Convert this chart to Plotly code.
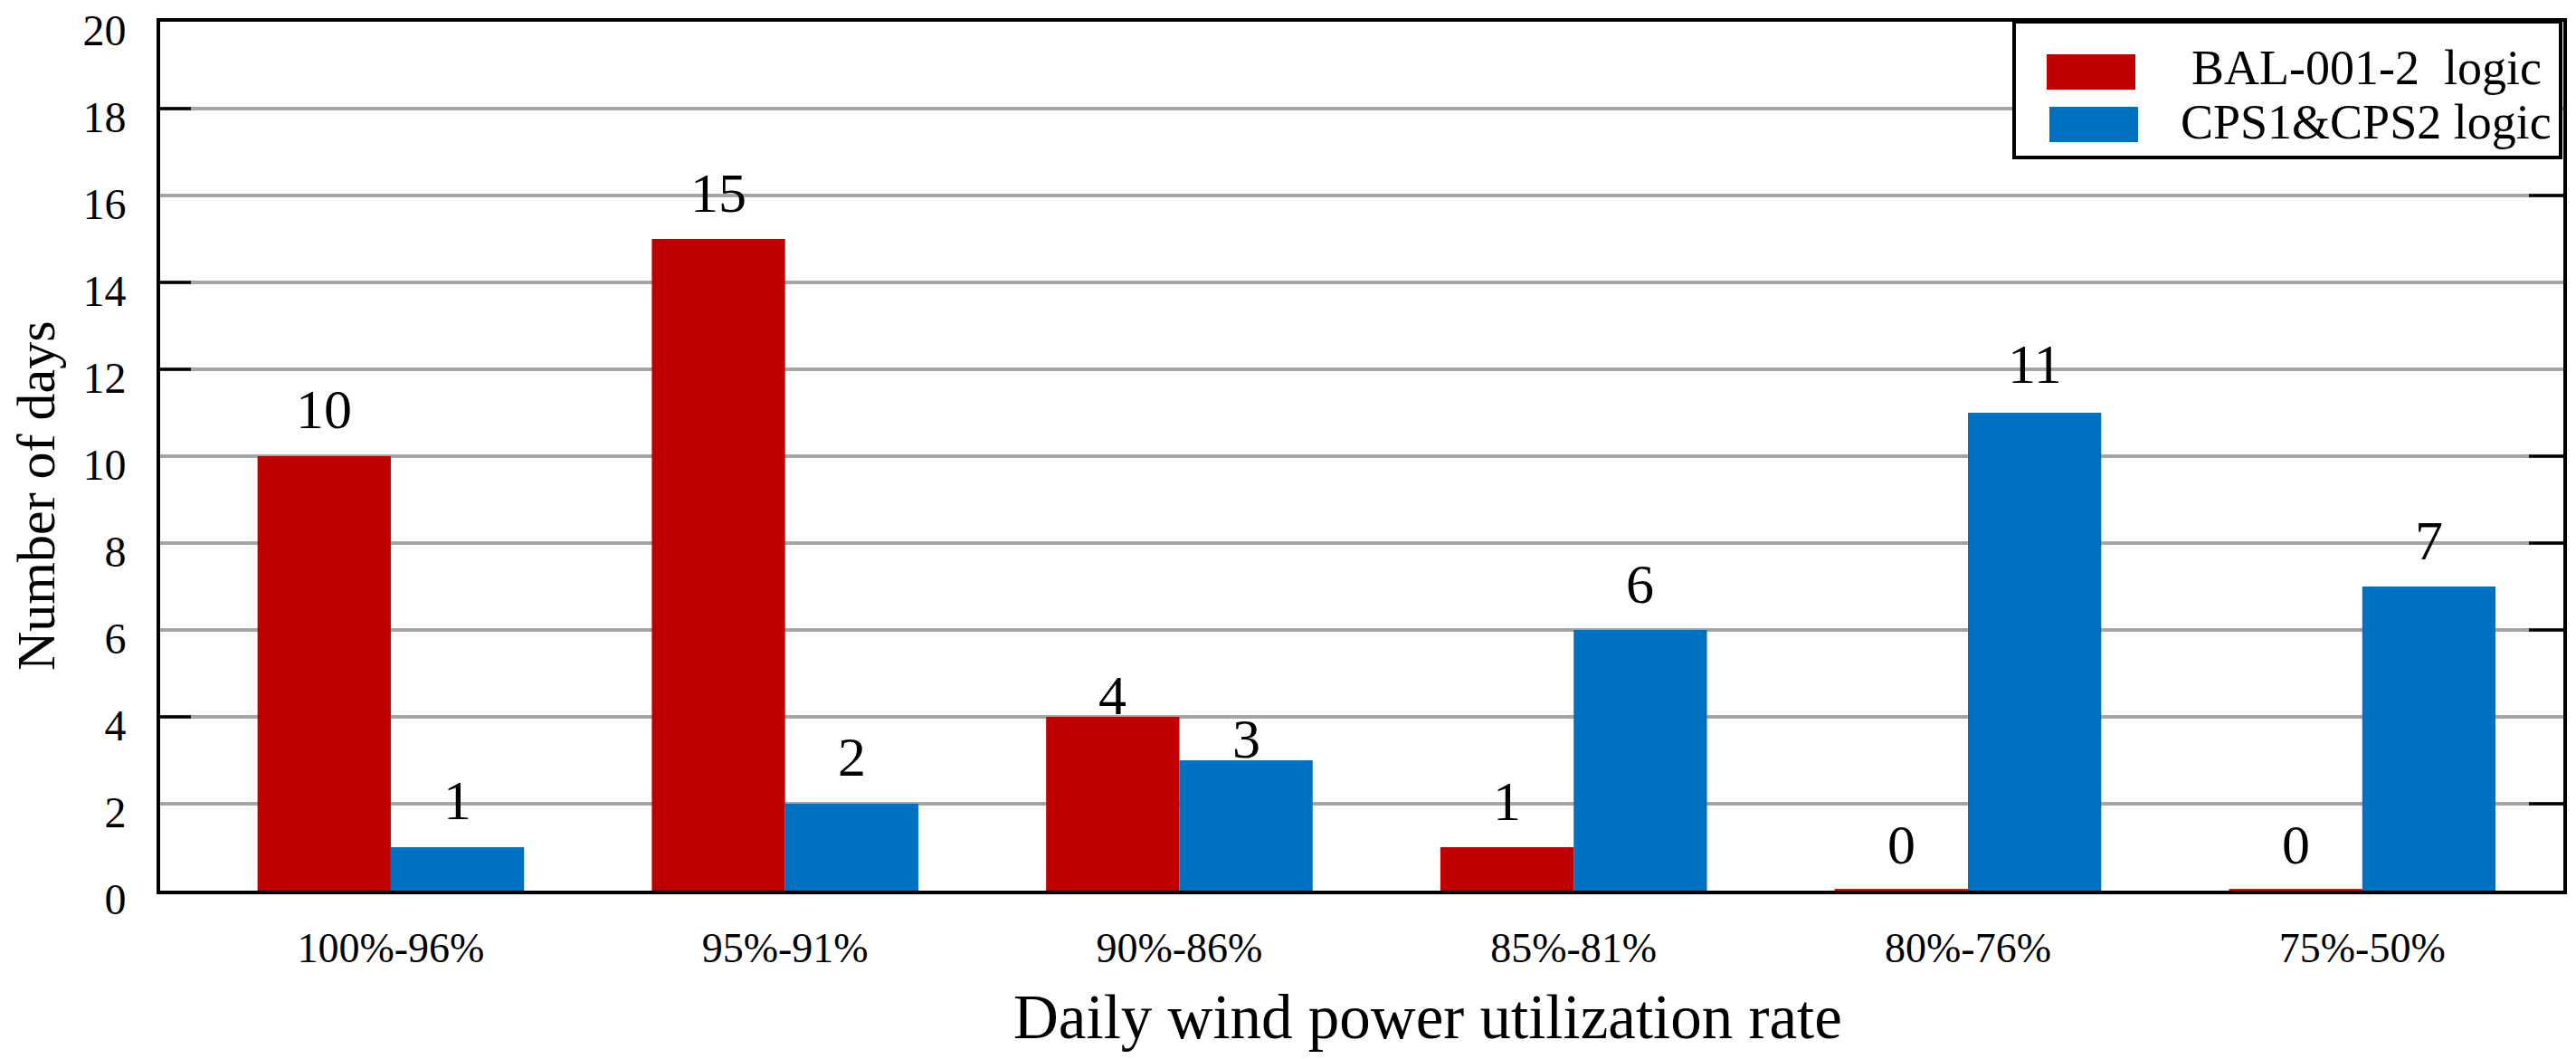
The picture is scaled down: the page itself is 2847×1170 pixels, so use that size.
import plotly.graph_objects as go

# ---------------- data ----------------
categories = ["100%-96%", "95%-91%", "90%-86%", "85%-81%", "80%-76%", "75%-50%"]
bal_values = [10, 15, 4, 1, 0, 0]
cps_values = [1, 2, 3, 6, 11, 7]
series_names = ["BAL-001-2\u00a0 logic", "CPS1&CPS2 logic"]
y_ticks = [0, 2, 4, 6, 8, 10, 12, 14, 16, 18, 20]

# ---------------- style ----------------
FONT = "Liberation Serif"
RED = "#C00000"
BLUE = "#0070C0"
ZERO_RED = "#FF0000"
GRID = "#A6A6A6"
W, H = 2847, 1170
ML, MR, MT, MB = 177, 14, 24, 186
PLOT_W = W - ML - MR
PH = H - MT - MB
X_RANGE = [-0.585, 5.51]
BAR_FRAC = 0.338            # width of one bar as fraction of a category
BAR_PX_HALF = PLOT_W / (X_RANGE[1] - X_RANGE[0]) * BAR_FRAC / 2

# label gaps (pixels between bar top and label) per series
bal_gaps = [29, 28, 1, 28, 28, 28]
cps_gaps = [29, 29, 1, 28, 31, 28]

# tick decorations seen on the frame
left_black_ticks = [18, 14, 12, 4]
right_black_ticks = [16, 10, 8, 6, 2]

fig = go.Figure()
fig.add_trace(go.Bar(
    x=categories, y=bal_values, name=series_names[0],
    marker=dict(color=RED,
                line=dict(color=[ZERO_RED if v == 0 else RED for v in bal_values],
                          width=[4 if v == 0 else 0 for v in bal_values])),
))
fig.add_trace(go.Bar(
    x=categories, y=cps_values, name=series_names[1],
    marker=dict(color=BLUE,
                line=dict(color=[ZERO_RED if v == 0 else BLUE for v in cps_values],
                          width=[4 if v == 0 else 0 for v in cps_values])),
))

annotations = []
LABEL_SIZE = 62
for vals, gaps, sign in ((bal_values, bal_gaps, -1), (cps_values, cps_gaps, 1)):
    for c, v, g in zip(categories, vals, gaps):
        annotations.append(dict(
            x=c, y=v, xref="x", yref="y", text=str(v), showarrow=False,
            xanchor="center", yanchor="bottom",
            xshift=sign * BAR_PX_HALF, yshift=g - 0.216 * LABEL_SIZE,
            font=dict(family=FONT, size=LABEL_SIZE, color="black"),
        ))


def px_x(p):
    return (p - ML) / PLOT_W


def px_y(p):
    return ((H - MB) - p) / PH


# axis titles
annotations.append(dict(
    x=px_x(1578), y=px_y(1124),
    xref="paper", yref="paper", text="Daily wind power utilization rate",
    showarrow=False, xanchor="center", yanchor="middle",
    font=dict(family=FONT, size=69, color="black"),
))
annotations.append(dict(
    x=px_x(40), y=px_y(548),
    xref="paper", yref="paper", text="Number of days", textangle=-90,
    showarrow=False, xanchor="center", yanchor="middle",
    font=dict(family=FONT, size=60, color="black"),
))

# legend (drawn manually to get large swatches)
shapes = []
shapes.append(dict(type="rect", xref="paper", yref="paper",
                   x0=px_x(2226), x1=px_x(2830), y0=px_y(174), y1=px_y(24),
                   fillcolor="white", line=dict(color="black", width=4), layer="above"))
shapes.append(dict(type="rect", xref="paper", yref="paper",
                   x0=px_x(2262), x1=px_x(2360), y0=px_y(99), y1=px_y(60),
                   fillcolor=RED, line=dict(width=0), layer="above"))
shapes.append(dict(type="rect", xref="paper", yref="paper",
                   x0=px_x(2265), x1=px_x(2363), y0=px_y(157), y1=px_y(118),
                   fillcolor=BLUE, line=dict(width=0), layer="above"))
for name, yc in zip(series_names, (74.5, 134.5)):
    annotations.append(dict(
        x=px_x(2615), y=px_y(yc), xref="paper", yref="paper", text=name,
        showarrow=False, xanchor="center", yanchor="middle",
        font=dict(family=FONT, size=54, color="black"),
    ))

TICK_LEN = 34 / PLOT_W
for t in left_black_ticks:
    shapes.append(dict(type="line", xref="paper", yref="y", x0=0, x1=TICK_LEN,
                       y0=t, y1=t, line=dict(color="black", width=3.5)))
for t in right_black_ticks:
    shapes.append(dict(type="line", xref="paper", yref="y", x0=1 - TICK_LEN - 4 / PLOT_W,
                       x1=1, y0=t, y1=t, line=dict(color="black", width=3.5)))

fig.update_layout(
    width=W, height=H, autosize=False,
    margin=dict(l=ML, r=MR, t=MT, b=MB, pad=0, autoexpand=False),
    paper_bgcolor="white", plot_bgcolor="white",
    barmode="group", bargap=1 - 2 * BAR_FRAC, bargroupgap=0,
    showlegend=False,
    font=dict(family=FONT, color="black"),
    annotations=annotations, shapes=shapes,
    xaxis=dict(
        type="category", range=X_RANGE, automargin=False,
        showline=True, linecolor="black", linewidth=4, mirror=True,
        showgrid=False, ticks="", layer="below traces",
        tickfont=dict(family=FONT, size=46, color="black"),
        ticklabelstandoff=20,
    ),
    yaxis=dict(
        range=[0, 20], tickmode="array", tickvals=y_ticks, automargin=False,
        ticktext=[str(t) for t in y_ticks],
        showline=True, linecolor="black", linewidth=4, mirror=True,
        showgrid=True, gridcolor=GRID, gridwidth=3.5, zeroline=False,
        ticks="", tickfont=dict(family=FONT, size=48, color="black"),
        ticklabelstandoff=24, ticklabelshift=9, ticklabeloverflow="allow",
    ),
)

fig.write_html("out.html", config={"displayModeBar": False},
               post_script="document.body.style.margin='0';document.body.style.overflow='hidden';")
